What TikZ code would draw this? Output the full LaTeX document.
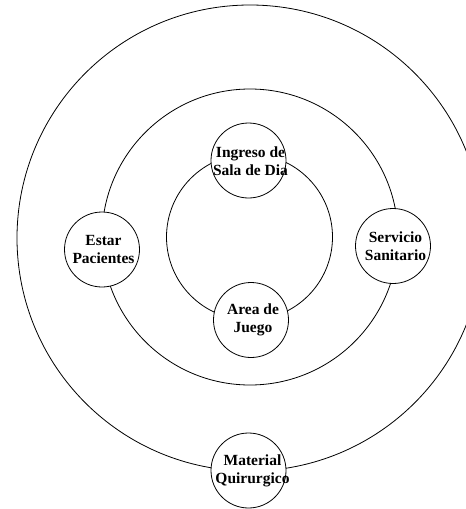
\documentclass[tikz,border=0pt]{standalone}
\usepackage{fontspec}
\setmainfont{Liberation Serif}
\begin{document}
\begin{tikzpicture}[x=1pt,y=-1pt,
  ring/.style={draw=black,line width=0.8pt},
  room/.style={circle,draw=black,fill=white,line width=0.8pt,minimum size=75pt,inner sep=0pt},
  roomtext/.style={align=center,inner sep=0pt,font=\fontsize{15.5}{18}\selectfont\bfseries}]
\useasboundingbox (0,0) rectangle (466,509);
\clip (0,0) rectangle (466,509);
% rings
\draw[ring] (250,238) circle[radius=233];
\draw[ring] (250,237) circle[radius=148];
\draw[ring] (249.5,237) circle[radius=83];
% rooms
\node[room] (ing) at (248.5,160.5) {};
\node[room] (est) at (102,249.5) {};
\node[room] (ser) at (393,246) {};
\node[room] (are) at (251,320) {};
\node[room] (mat) at (248.5,470.5) {};
% labels
\node[roomtext] (ingt) at ([xshift=2pt,yshift=-0.5pt]ing.center) {Ingreso de\\Sala de Dia};
\node[roomtext] (estt) at ([xshift=1.5pt]est.center) {Estar\\Pacientes};
\node[roomtext] (sert) at ([xshift=2.5pt]ser.center) {Servicio\\Sanitario};
\node[roomtext] (aret) at ([xshift=2pt]are.center) {Area de\\Juego};
\node[roomtext] (matt) at ([xshift=4pt]mat.center) {Material\\Quirurgico};
\end{tikzpicture}
\end{document}
